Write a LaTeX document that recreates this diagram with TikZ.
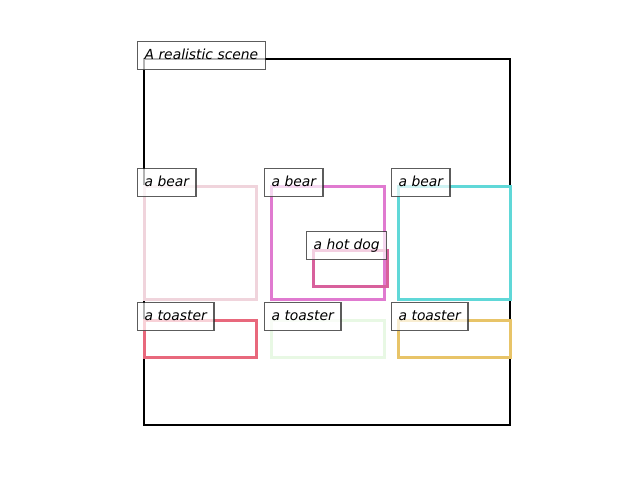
\documentclass[tikz,border=0pt]{standalone}
\usepackage{fontspec}
\setmainfont{DejaVu Sans}
\definecolor{cbearA}{HTML}{F0D4DC}
\definecolor{cbearB}{HTML}{E07AD0}
\definecolor{cbearC}{HTML}{60D8D8}
\definecolor{chotdog}{HTML}{D8609C}
\definecolor{ctoastA}{HTML}{E8687C}
\definecolor{ctoastB}{HTML}{E8F8E4}
\definecolor{ctoastC}{HTML}{E8C468}
\tikzset{
  box/.style={line width=2.25pt, draw},
  frame/.style={line width=1.6pt, draw=black},
  lbl/.style={anchor=north west, draw=black!85, draw opacity=0.75, fill=white, fill opacity=0.7, text opacity=1,
    line width=1pt, inner xsep=5.25pt, inner ysep=0pt, minimum height=21pt,
    text height=0.75em, text depth=0.22em,
    font=\fontsize{10.4pt}{12pt}\selectfont\itshape}
}
\begin{document}
\begin{tikzpicture}[x=0.75pt, y=-0.75pt]
\useasboundingbox (0,0) rectangle (640,480);
\draw[frame] (144,59) rectangle (510,425);
% boxes
\draw[box, draw=cbearA] (144,186) rectangle (256,299);
\draw[box, draw=cbearB] (271,186) rectangle (384,299);
\draw[box, draw=cbearC] (398,186) rectangle (510,299);
\draw[box, draw=chotdog] (313,250) rectangle (387,286);
\draw[box, draw=ctoastA] (144,320) rectangle (256,357);
\draw[box, draw=ctoastB] (271,320) rectangle (384,357);
\draw[box, draw=ctoastC] (398,320) rectangle (510,357);
% labels
\node[lbl] (t) at (137,41) {A realistic scene};
\node[lbl] (b1) at (137,168) {a bear};
\node[lbl] (b2) at (264,168) {a bear};
\node[lbl] (b3) at (391,168) {a bear};
\node[lbl] (h) at (306,231) {a hot dog};
\node[lbl] (t1) at (137,302) {a toaster};
\node[lbl] (t2) at (264,302) {a toaster};
\node[lbl] (t3) at (391,302) {a toaster};
\end{tikzpicture}
\end{document}
